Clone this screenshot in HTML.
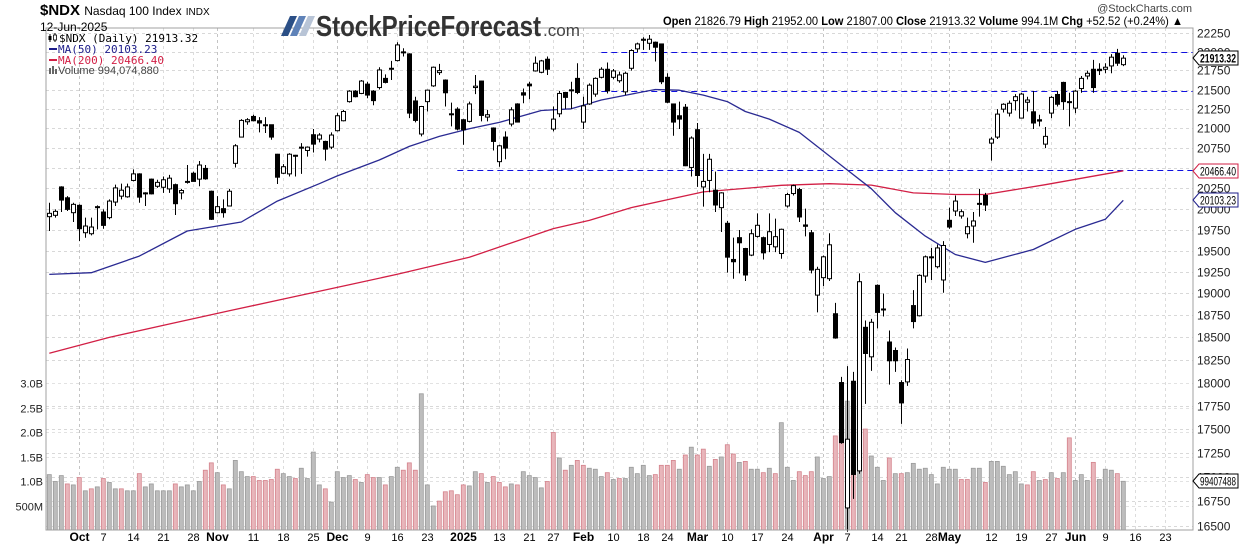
<!DOCTYPE html>
<html><head><meta charset="utf-8"><title>$NDX Daily</title>
<style>
html,body{margin:0;padding:0;background:#fff;}
svg{display:block;font-family:"Liberation Sans",sans-serif;}
</style></head>
<body>
<svg id="chart" width="1240" height="546" viewBox="0 0 1240 546" xmlns="http://www.w3.org/2000/svg">
  <rect x="0" y="0" width="1240" height="546" fill="#fff"/>
  <g id="grid"></g>
  <g id="volumes"></g>
  <g id="levels"></g>
  <g id="mas"></g>
  <g id="candles"></g>
  <rect x="46" y="28" width="1147" height="502" fill="none" stroke="#a0a0a0" stroke-width="1"/>
  <g id="axes"></g>

  <!-- header -->
  <text x="40" y="15" font-size="15" font-weight="bold" fill="#000">$NDX <tspan font-size="12" font-weight="normal">Nasdaq 100 Index</tspan> <tspan font-size="10" font-weight="normal">INDX</tspan></text>
  <text x="40" y="31" font-size="12" fill="#000">12-Jun-2025</text>

  <g>
    <polygon points="290,16 297,16 288,36 281,36" fill="#2b4f86"/>
    <polygon points="299,16 306,16 297,36 290,36" fill="#5f82b8"/>
    <polygon points="308,16 315,16 306,36 299,36" fill="#b8c4d6"/>
    <text x="316" y="36" font-size="29" fill="#333" textLength="225" lengthAdjust="spacingAndGlyphs" font-weight="bold" font-family="Liberation Sans Narrow, Liberation Sans, sans-serif">StockPriceForecast</text>
    <text x="543" y="36" font-size="17" fill="#444" textLength="37" lengthAdjust="spacingAndGlyphs">.com</text>
  </g>

  <text x="1192" y="12" font-size="11" fill="#444" text-anchor="end">@StockCharts.com</text>
  <text x="663" y="25" font-size="12" fill="#000" textLength="520" lengthAdjust="spacingAndGlyphs"><tspan font-weight="bold">Open</tspan> 21826.79  <tspan font-weight="bold">High</tspan> 21952.00  <tspan font-weight="bold">Low</tspan> 21807.00  <tspan font-weight="bold">Close</tspan> 21913.32  <tspan font-weight="bold">Volume</tspan> 994.1M  <tspan font-weight="bold">Chg</tspan> +52.52 (+0.24%) ▲</text>

  <!-- legend -->
  <g font-size="11">
    <g>
      <line x1="50" y1="34" x2="50" y2="42" stroke="#000"/><rect x="48.5" y="36" width="3" height="4" fill="#000"/>
      <line x1="55" y1="33" x2="55" y2="42" stroke="#000"/><rect x="53.5" y="35" width="3" height="5" fill="#fff" stroke="#000" stroke-width="0.8"/>
      <text x="59" y="42" font-family="DejaVu Sans Mono, monospace" fill="#000">$NDX (Daily) 21913.32</text>
    </g>
    <g>
      <line x1="49" y1="49" x2="57" y2="49" stroke="#1c1c8a" stroke-width="2"/>
      <text x="58" y="53" font-family="DejaVu Sans Mono, monospace" fill="#1c1c8a">MA(50) 20103.23</text>
    </g>
    <g>
      <line x1="49" y1="60" x2="57" y2="60" stroke="#d21f45" stroke-width="2"/>
      <text x="58" y="64" font-family="DejaVu Sans Mono, monospace" fill="#d21f45">MA(200) 20466.40</text>
    </g>
    <g>
      <rect x="49" y="68" width="2" height="6" fill="#666"/><rect x="52" y="66" width="2" height="8" fill="#666"/><rect x="55" y="69" width="2" height="5" fill="#666"/>
      <text x="58" y="74" fill="#444">Volume 994,074,880</text>
    </g>
  </g>
  <g id="markers"></g>
</svg>

<script>
// ---------- data ----------
const opens = [19905,19921,20267,20134,19953,20042,19712,19700,20026,19961,
19893,20082,20154,20146,20347,20428,20194,20363,20275,20263,
20243,20295,20194,20327,20436,20363,20496,20214,19953,20002,
20034,20559,20889,21084,21152,21097,21046,21046,20673,20436,
20428,20660,20762,20720,20919,20864,20834,20762,20970,21097,
21343,21479,21449,21571,21479,21526,21646,21779,21881,21997,
21970,21352,20928,21343,21548,21722,21624,21186,21246,21110,
21089,21526,21611,21144,21004,20580,20889,21055,21313,21458,
21571,21744,21726,21899,20991,21186,21462,21483,21646,21080,
21313,21441,21660,21766,21660,21615,21470,21779,22037,22152,
22112,22126,22103,21660,21313,21161,21271,20508,20983,20267,
20347,20227,20014,19825,19395,19653,19524,19446,19668,19653,
19572,19544,19465,20034,20186,20235,19805,19712,18980,19182,
19170,18767,18000,16682,18014,17061,18613,18283,19093,18821,
18448,18353,18000,18007,18860,18744,19201,19415,19310,19155,
19861,19973,19913,19700,19792,20066,20162,20813,20889,21246,
21195,21356,21131,21335,21212,21110,20800,21195,21436,21593,
21343,21259,21513,21677,21766,21766,21766,21810,21979,21826.79];
const highs = [20074,19993,20275,20154,20074,20054,19893,19893,20042,19993,
20114,20295,20307,20307,20484,20436,20202,20371,20355,20395,
20416,20307,20243,20538,20456,20588,20538,20222,20154,20114,
20243,20800,21118,21131,21174,21144,21144,21046,20677,20550,
20686,20665,20813,20771,20991,20940,20843,20949,21195,21237,
21492,21492,21624,21602,21492,21793,21699,21877,22126,22046,
21979,21407,21288,21500,21802,21837,21633,21330,21271,21118,
21343,21690,21615,21237,21012,20792,20962,21271,21322,21513,
21602,21935,21890,21935,21280,21483,21470,21602,21846,21407,
21580,21660,21793,21855,21770,21735,21735,22032,22121,22192,
22223,22135,22103,21713,21313,21343,21313,20898,21068,20677,
20677,20456,20202,19853,19653,19745,19532,19753,19945,19665,
19945,19881,19761,20194,20295,20255,20002,19745,19310,19442,
19705,18891,18062,18180,18117,19232,18690,18709,19104,18999,
18577,18386,18025,18375,19038,19221,19442,19532,19571,19612,
20014,20162,19993,19893,19961,20243,20194,20889,21246,21322,
21356,21441,21458,21407,21483,21174,21017,21415,21483,21602,
21458,21492,21677,21748,21890,21846,21846,21966,22037,21952];
const lows = [19732,19893,19961,19973,19841,19612,19652,19680,19752,19760,
19873,20034,20114,20134,20335,20074,20034,20174,20255,20194,
20194,19925,20114,20307,20335,20275,20355,19865,19945,19893,
20034,20508,20889,21046,21089,20949,20941,20856,20303,20428,
20395,20395,20428,20643,20694,20822,20593,20737,20962,21089,
21330,21398,21441,21386,21296,21500,21580,21624,21868,21935,
21131,21076,20898,21216,21535,21691,21280,21025,20974,20792,
21076,21441,21089,21089,20720,20517,20610,21025,21076,21322,
21373,21735,21713,21691,20962,21144,21250,21250,21441,20991,
21301,21407,21646,21449,21633,21588,21428,21748,21988,22024,
22024,21868,21571,21322,20906,20991,20525,20395,20267,20026,
20202,19961,19720,19240,19170,19232,19143,19434,19653,19395,
19481,19481,19403,20014,20162,19841,19668,19232,18782,19085,
19143,18485,17344,16443,16774,17032,17768,18128,18601,18736,
17977,18117,17554,17963,18601,18736,19123,19155,19290,19007,
19760,19913,19881,19644,19592,19905,19973,20593,20864,21203,
21152,21229,21131,21216,20991,21025,20750,21131,21280,21237,
21025,21195,21458,21633,21458,21691,21713,21713,21810,21807];
const closes = [19945,19969,20106,19993,20054,19760,19792,19780,20014,19800,
20094,20255,20227,20267,20428,20142,20182,20182,20323,20355,
20375,20062,20223,20335,20335,20538,20367,19873,20026,19953,
20214,20779,21101,21110,21097,21068,21034,20889,20387,20517,
20673,20652,20750,20762,20800,20915,20737,20915,21161,21216,
21479,21407,21611,21428,21356,21757,21593,21766,22090,21988,
21195,21101,21280,21492,21793,21748,21458,21178,20991,20983,
21313,21544,21165,21174,20834,20779,20750,21237,21080,21428,
21548,21846,21877,21766,21118,21449,21398,21496,21462,21288,
21557,21646,21766,21483,21744,21691,21713,22015,22103,22166,
22166,22059,21602,21335,21080,21118,20529,20877,20408,20335,
20610,20046,20194,19422,19368,19592,19213,19700,19801,19473,
19724,19665,19753,20174,20283,19901,19789,19271,19279,19426,
19568,18493,17356,17392,17024,19135,18320,18670,18782,18813,
18239,18239,17779,18253,18678,19209,19426,19426,19531,19560,
19780,20094,19965,19784,19853,20058,20046,20864,21182,21309,
21322,21407,21441,21364,21068,21093,20898,21398,21309,21343,
21330,21479,21646,21713,21526,21748,21793,21926,21846,21913.32];
const volumes = [1.13,0.99,1.11,0.94,0.92,1.07,0.80,0.84,0.88,1.05,
0.97,0.84,0.84,0.80,0.80,1.15,0.88,0.94,0.80,0.80,
0.80,0.94,0.88,0.92,0.80,0.99,1.22,1.37,1.17,0.92,
0.84,1.42,1.19,1.09,1.09,1.01,1.01,1.03,1.24,1.15,
1.09,1.05,1.26,1.05,1.59,0.92,0.84,0.57,1.19,1.07,
1.11,1.03,0.97,1.13,1.07,1.07,0.92,1.09,1.28,1.22,
1.37,1.22,2.78,0.92,0.49,0.59,0.78,0.80,0.72,0.92,
0.90,1.19,1.15,0.97,1.09,0.97,0.88,0.94,0.92,1.19,
1.11,1.07,0.86,0.99,1.99,1.47,1.22,1.32,1.42,1.32,
1.26,1.24,1.09,1.17,1.03,1.05,1.05,1.28,1.15,1.32,
1.11,1.13,1.32,1.32,1.42,1.24,1.53,1.69,1.53,1.65,
1.30,1.44,1.49,1.74,1.55,1.38,1.40,1.24,1.24,1.17,
1.26,1.15,2.19,1.28,1.01,1.19,1.11,1.19,1.49,1.05,
1.09,1.92,1.98,2.63,2.30,2.94,2.06,1.51,1.28,1.01,
1.47,1.15,1.15,1.17,1.36,1.24,1.26,1.13,0.94,1.28,
1.24,1.24,1.03,1.03,1.26,1.26,0.97,1.40,1.40,1.30,
1.13,1.19,0.94,0.92,1.19,1.01,1.03,1.17,1.05,1.17,
1.88,1.01,1.13,1.01,1.38,1.03,1.24,1.22,1.15,0.994];
const ma50Days = [0,7,15,23,32,38,45,48,55,60,65,70,75,82,87,92,97,101,105,109,113,116,120,125,133,137,141,146,151,156,164,171,176,179];
const ma50Values = [19220,19240,19434,19732,19841,20094,20307,20403,20601,20771,20898,20996,21076,21229,21250,21364,21441,21500,21492,21428,21343,21216,21118,20949,20476,20245,19953,19672,19453,19360,19512,19753,19873,20103.23];
const ma200Days = [0,10,20,30,40,50,58,70,84,90,97,109,122,130,137,144,151,156,166,179];
const ma200Values = [18323,18500,18650,18800,18950,19100,19221,19420,19761,19860,20014,20206,20287,20307,20290,20194,20174,20174,20295,20466.40];
const tickDays = [5,9,14,19,24,28,34,39,44,48,53,58,63,69,75,80,84,89,94,99,103,108,113,118,123,129,133,138,142,147,150,157,162,167,171,176,181,186];
const tickLabels = ["Oct","7","14","21","28","Nov","11","18","25","Dec","9","16","23","2025","13","21","27","Feb","10","18","24","Mar","10","17","24","Apr","7","14","21","28","May","12","19","27","Jun","9","16","23"];
const monthTicks = ["Oct","Nov","Dec","2025","Feb","Mar","Apr","May","Jun"];
const priceTicks = [16500,16750,17000,17250,17500,17750,18000,18250,18500,18750,19000,19250,19500,19750,20000,20250,20500,20750,21000,21250,21500,21750,22000,22250];
const volumeTicks = [0.5,1.0,1.5,2.0,2.5,3.0];
const volumeTickLabels = ["500M","1.0B","1.5B","2.0B","2.5B","3.0B"];
const levelPrices = [22000,21480,20480];
const levelStartDays = [92,92,68];

// ---------- scales ----------
const NS = "http://www.w3.org/2000/svg";
const PLOT_L = 46, PLOT_R = 1193, PLOT_T = 28, PLOT_B = 530;
const X = i => 49.3 + 6 * i;
const Y = p => 33 - 1649 * Math.log(p / 22250);
const VY = v => 530 - 49 * v;
function mk(tag, attrs, parent) {
  const el = document.createElementNS(NS, tag);
  for (const k in attrs) el.setAttribute(k, attrs[k]);
  parent.appendChild(el);
  return el;
}
const gGrid = document.getElementById('grid');
const gVol = document.getElementById('volumes');
const gLev = document.getElementById('levels');
const gMA = document.getElementById('mas');
const gC = document.getElementById('candles');
const gAx = document.getElementById('axes');
const gMk = document.getElementById('markers');

// grid: horizontal price lines
priceTicks.forEach(p => {
  const y = Math.round(Y(p)) + 0.5;
  const ln = mk('line', {x1: PLOT_L, x2: PLOT_R, y1: y, y2: y, stroke: '#d8d8d8', 'stroke-dasharray': '3,3', 'stroke-width': 1}, gGrid);
  
  
  const t = mk('text', {x: 1197, y: y + 4, 'font-size': 12, fill: '#222'}, gAx);
  t.textContent = String(p);
  
  
});
// volume gridlines + labels
volumeTicks.forEach((v, k) => {
  const y = Math.round(VY(v)) + 0.5;
  const ln = mk('line', {x1: PLOT_L, x2: PLOT_R, y1: y, y2: y, stroke: '#e2e2e2', 'stroke-dasharray': '3,3', 'stroke-width': 1}, gGrid);
  
  
  const t = mk('text', {x: 43, y: y + 4, 'font-size': 11, fill: '#222', 'text-anchor': 'end'}, gAx);
  t.textContent = volumeTickLabels[k];
  
  
});
// vertical date gridlines + labels
tickDays.forEach((d, k) => {
  const x = Math.round(X(d)) + 0.5;
  const isMonth = monthTicks.includes(tickLabels[k]);
  const ln = mk('line', {x1: x, x2: x, y1: PLOT_T, y2: PLOT_B, stroke: isMonth ? '#c4c4c4' : '#dcdcdc', 'stroke-dasharray': '3,3', 'stroke-width': 1}, gGrid);
  
  
  const t = mk('text', {x: x, y: 541, 'font-size': isMonth ? 12 : 11, 'font-weight': isMonth ? 'bold' : 'normal', fill: '#000', 'text-anchor': 'middle'}, gAx);
  t.textContent = tickLabels[k];
  
  
});

// volume bars
volumes.forEach((v, i) => {
  const prev = i > 0 ? closes[i - 1] : opens[i];
  const down = closes[i] < prev;
  const y = VY(v);
  const r = mk('rect', {x: X(i) - 2, y: y, width: 4, height: PLOT_B - y,
    fill: down ? '#e8b6bb' : '#bdbdbd', stroke: down ? '#d4828c' : '#9a9a9a', 'stroke-width': 0.8}, gVol);
  
  
});

// horizontal support/resistance dashed lines
levelPrices.forEach((p, k) => {
  const y = Math.round(Y(p)) + 0.5;
  const ln = mk('line', {x1: X(levelStartDays[k]), x2: PLOT_R, y1: y, y2: y, stroke: '#1010e0', 'stroke-dasharray': '6,4', 'stroke-width': 1}, gLev);
  
  
});

// moving averages
function maPath(days, vals) {
  return days.map((d, k) => (k ? 'L' : 'M') + X(d).toFixed(1) + ',' + Y(vals[k]).toFixed(1)).join(' ');
}
const p200 = mk('path', {d: maPath(ma200Days, ma200Values), fill: 'none', stroke: '#d21f45', 'stroke-width': 1.3, 'stroke-linejoin': 'round'}, gMA);


const p50 = mk('path', {d: maPath(ma50Days, ma50Values), fill: 'none', stroke: '#2a2a92', 'stroke-width': 1.3, 'stroke-linejoin': 'round'}, gMA);



// candles
closes.forEach((c, i) => {
  const o = opens[i];
  const x = Math.round(X(i)) + 0.5;
  const g = mk('g', {}, gC);
  
  
  mk('line', {x1: x, x2: x, y1: Y(highs[i]), y2: Y(lows[i]), stroke: '#000', 'stroke-width': 1}, g);
  const top = Y(Math.max(o, c)), bot = Y(Math.min(o, c));
  const h = Math.max(1, bot - top);
  const up = c >= o;
  mk('rect', {x: x - 2, y: top, width: 4, height: h, fill: up ? '#fff' : '#000', stroke: '#000', 'stroke-width': 1}, g);
});

// right-side value markers
function marker(y, text, color, bold, name) {
  const g = mk('g', {}, gMk);
  
  
  mk('polygon', {points: `1193,${y} 1199,${y-7} 1238,${y-7} 1238,${y+7} 1199,${y+7}`, fill: '#fff', stroke: color, 'stroke-width': 1}, g);
  const t = mk('text', {x: 1200, y: y + 4.5, 'font-size': 12, fill: '#000', 'font-weight': bold ? 'bold' : 'normal', textLength: 36, lengthAdjust: 'spacingAndGlyphs'}, g);
  t.textContent = text;
}
marker(Math.round(Y(closes[closes.length - 1])), closes[closes.length - 1].toFixed(2), '#000', true, 'last-price-marker');
marker(Math.round(Y(ma200Values[ma200Values.length - 1])), ma200Values[ma200Values.length - 1].toFixed(2), '#d21f45', false, 'ma200-marker');
marker(Math.round(Y(ma50Values[ma50Values.length - 1])), ma50Values[ma50Values.length - 1].toFixed(2), '#1c1c8a', false, 'ma50-marker');
marker(Math.round(VY(volumes[volumes.length - 1])), '99407488', '#000', false, 'last-volume-marker');
</script>
</body></html>
